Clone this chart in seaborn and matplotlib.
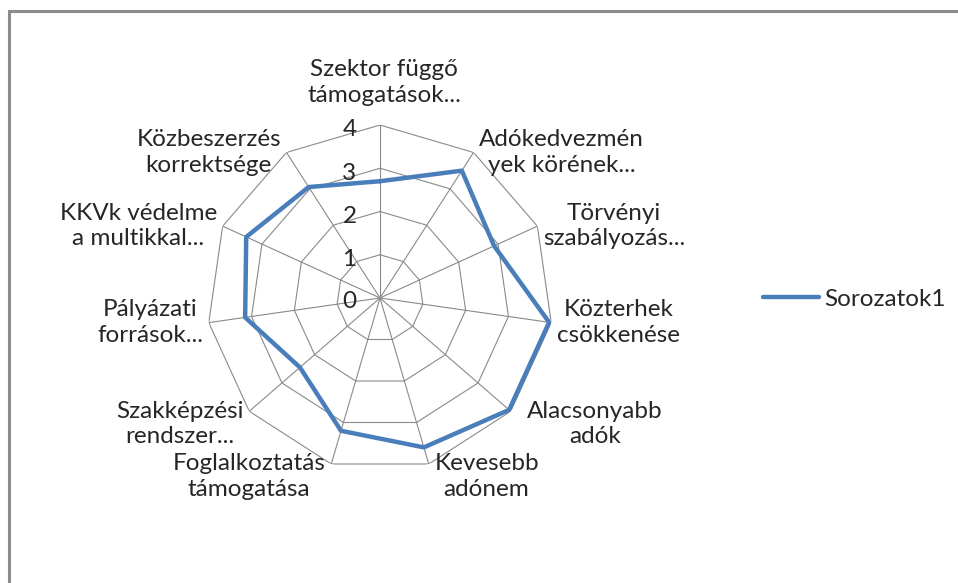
import numpy as np
import pandas as pd
import matplotlib
matplotlib.use('Agg')
import matplotlib.pyplot as plt
import seaborn as sns

# Data
categories = ['Szektor függő\ntámogatások...', 'Adókedvezmén\nyek körének...',
              'Törvényi\nszabályozás...', 'Közterhek\ncsökkenése',
              'Alacsonyabb\nadók', 'Kevesebb\nadónem',
              'Foglalkoztatás\ntámogatása', 'Szakképzési\nrendszer...',
              'Pályázati\nforrások...', 'KKVk védelme\na multikkal...',
              'Közbeszerzés\nkorrektsége']
values = [2.7, 3.5, 2.9, 3.95, 3.95, 3.6, 3.2, 2.45, 3.15, 3.4, 3.05]
ticks = [0, 1, 2, 3, 4]
series_name = 'Sorozatok1'

sns.set_style('white')
plt.rcParams['font.family'] = ['Lato', 'DejaVu Sans']
FS = 17.5
TXT = '#262626'

n = len(categories)
theta = np.arange(n) * 2 * np.pi / n
df = pd.DataFrame({'theta': np.append(theta, theta[0]),
                   'value': values + [values[0]]})

fig = plt.figure(figsize=(9.58, 5.83), dpi=100)
# outer chart border (only top/left visible in the crop)
fig.patches.append(plt.Rectangle((9 / 958, -0.05), 1.2, (583 - 11) / 583 + 0.05,
                                 transform=fig.transFigure, fill=False,
                                 edgecolor='#8c8c8c', lw=2.2))

ax = fig.add_axes([(380 - 173) / 958, (583 - 298 - 173) / 583, 346 / 958, 346 / 583],
                  projection='polar')
ax.set_theta_zero_location('N')
ax.set_theta_direction(-1)
ax.set_ylim(0, 4)
ax.grid(False)
ax.spines['polar'].set_visible(False)
ax.set_xticks([])
ax.set_yticks([])
ax.patch.set_alpha(0)

# polygon grid and spokes
closed = np.append(theta, theta[0])
for t in ticks[1:]:
    ax.plot(closed, [t] * (n + 1), color='#8a8a8a', lw=0.8, zorder=1)
for th in theta:
    ax.plot([th, th], [0, 4], color='#8a8a8a', lw=0.8, zorder=1)

sns.lineplot(data=df, x='theta', y='value', sort=False, estimator=None,
             ax=ax, color='#4a7ebb', lw=3.2, label=series_name, zorder=3)
ax.set_xlabel('')
ax.set_ylabel('')

# radial tick labels, left of the top spoke
for t in ticks:
    ax.annotate(str(t), xy=(0, t), xytext=(-22, -3.5 if t else -2.5),
                textcoords='offset points', ha='center', va='center',
                fontsize=FS, color=TXT)

# category labels
for th, lab in zip(theta, categories):
    s, c = np.sin(th), np.cos(th)
    if abs(s) < 0.1:
        ax.annotate(lab, xy=(th, 4), xytext=(3, 14), textcoords='offset points',
                    ha='center', va='bottom', fontsize=FS, color=TXT,
                    linespacing=1.25, multialignment='center')
        continue
    ha = 'left' if s > 0 else 'right'
    dx = 4 if s > 0 else -4
    dy = 0
    if c < -0.5:
        dy = -9
    if 0.5 < s < 0.9 and c < 0:
        dx = 12
    ax.annotate(lab, xy=(th, 4), xytext=(dx, dy), textcoords='offset points',
                ha=ha, va='center', fontsize=FS, color=TXT,
                linespacing=1.25, multialignment='center')

leg = ax.legend(loc='center left', bbox_to_anchor=(763 / 958, 0.487),
                bbox_transform=fig.transFigure, frameon=False, fontsize=FS,
                handlelength=2.3, handletextpad=0.2, borderpad=0, borderaxespad=0)
for txt in leg.get_texts():
    txt.set_color(TXT)

fig.savefig('out.png', dpi=100)
